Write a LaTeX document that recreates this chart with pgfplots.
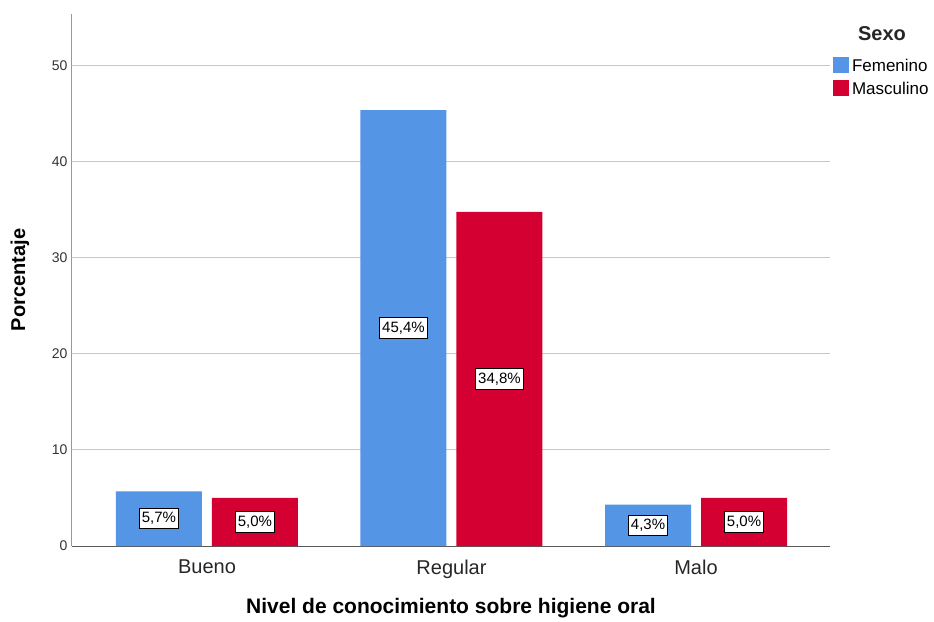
\documentclass[border=0pt]{standalone}
\usepackage{pgfplots}
\pgfplotsset{compat=1.18}
\usepackage{fontspec}
\setmainfont{Liberation Sans}
\definecolor{fem}{RGB}{85,149,229}
\definecolor{masc}{RGB}{213,0,50}
\definecolor{gridc}{RGB}{200,200,200}
\begin{document}
\begin{tikzpicture}
\path[use as bounding box] (-72pt,-75pt) rectangle (862pt,546pt);
\begin{axis}[
  at={(0pt,0pt)}, anchor=south west,
  scale only axis, width=758pt, height=532pt,
  /pgf/number format/assume math mode=true,
  ybar=10pt, bar width=86pt,
  xmin=-0.552, xmax=2.548, ymin=0, ymax=55.4,
  xtick={0,1,2}, xticklabels={Bueno,Regular,Malo},
  ytick={0,10,20,30,40,50},
  major tick length=0pt,
  axis x line=bottom, axis y line=left,
  axis line style={-},
  x axis line style={draw=black!65, line width=1pt},
  y axis line style={draw=black!40, line width=1pt},
  ymajorgrids, grid style={draw=gridc, line width=1pt},
  yticklabel style={font=\fontsize{14}{16}\selectfont, text=black!80, xshift=-1pt},
  xticklabel style={font=\fontsize{20}{22}\selectfont, text=black!85, yshift=-10pt},
  xlabel={\textbf{Nivel de conocimiento sobre higiene oral}},
  ylabel={\textbf{Porcentaje}},
  xlabel style={font=\fontsize{21}{24}\selectfont, at={(axis description cs:0.5,-0.117)}, anchor=center},
  ylabel style={font=\fontsize{20}{24}\selectfont, at={(axis description cs:-0.0686,0.5)}, anchor=center},
  legend style={at={(axis description cs:1.0040,0.9204)}, anchor=north west, draw=none, fill=none,
    font=\fontsize{17}{19}\selectfont, row sep=2pt, inner sep=0pt,
    nodes={inner xsep=2.8pt, inner ysep=2pt, text height=12pt, text depth=4pt}},
  legend cell align=left,
  legend image code/.code={\fill[#1] (0pt,-5pt) rectangle (16pt,11pt);},
  visualization depends on={y \as \rawy},
  nodes near coords={\pgfmathprintnumber[fixed,fixed zerofill,precision=1,use comma]{\rawy}\%},
  every node near coord/.append style={anchor=center, draw=black, line width=1pt, fill=white,
    inner xsep=2.5pt, inner ysep=4pt, font=\fontsize{15}{17}\selectfont, text=black,
    shift={(axis direction cs:0,-\rawy/2)}},
]
\addplot[fill=fem, draw=none] coordinates {(0,5.7) (1,45.4) (2,4.3)};
\addlegendentry{Femenino}
\addplot[fill=masc, draw=none] coordinates {(0,5.0) (1,34.8) (2,5.0)};
\addlegendentry{Masculino}
\end{axis}
\node[font=\bfseries\fontsize{20}{24}\selectfont, text=black!85] at (810pt,512pt) {Sexo};
\end{tikzpicture}
\end{document}
